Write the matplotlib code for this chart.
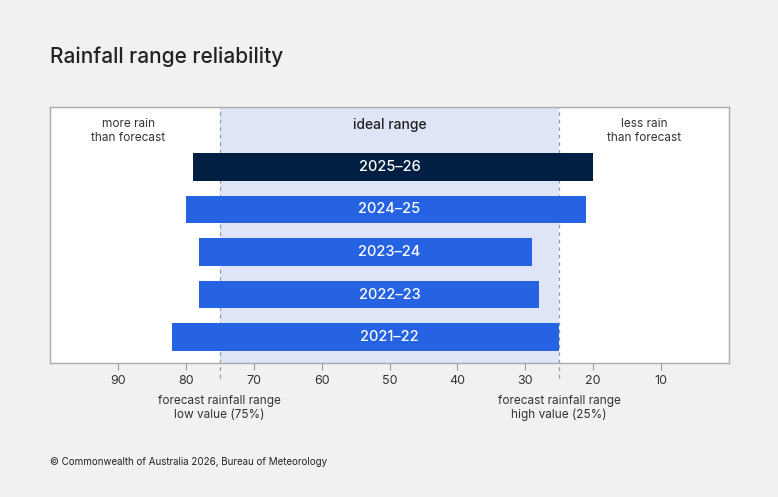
import matplotlib.pyplot as plt

seasons = ["2021–22", "2022–23", "2023–24", "2024–25", "2025–26"]
low_end = [82, 78, 78, 80, 79]
high_end = [25, 28, 29, 21, 20]
ideal_low = 75
ideal_high = 25
xticks = [90, 80, 70, 60, 50, 40, 30, 20, 10]

plt.rcParams["font.family"] = ["Inter", "DejaVu Sans"]

BG = "#f1f1f1"
BLUE = "#2563e3"
NAVY = "#011f42"
SHADE = "#dde5f7"
TXT = "#333333"

fig = plt.figure(figsize=(7.78, 4.97), dpi=100, facecolor=BG)
ax = fig.add_axes([50 / 778, 1 - 363 / 497, 679 / 778, 256 / 497])
ax.set_facecolor("white")

ax.axvspan(ideal_low, ideal_high, color=SHADE, zorder=0, lw=0)
for v in (ideal_low, ideal_high):
    ax.axvline(v, ymin=-0.06, ymax=1, color="#999999", lw=0.9,
               ls=(0, (3, 3)), clip_on=False, zorder=1)

for i, (s, lo, hi) in enumerate(zip(seasons, low_end, high_end)):
    col = NAVY if i == len(seasons) - 1 else BLUE
    ax.barh(i, hi - lo, left=lo, height=0.64, color=col, zorder=2)
    ax.text(50, i, s, color="white", ha="center", va="center",
            fontsize=10.5, fontweight="medium", zorder=3)

ax.set_xlim(100, 0)
ax.set_ylim(-0.61, 5.41)
ax.set_yticks([])
ax.set_xticks(xticks)
ax.tick_params(axis="x", length=5, color="#999999", labelcolor=TXT,
               labelsize=9, pad=4)
for sp in ax.spines.values():
    sp.set_color("#aaaaaa")
    sp.set_linewidth(1)

ax.text(88.5, 4.85, "more rain\nthan forecast", ha="center", va="center",
        fontsize=8.5, color=TXT, linespacing=1.2)
ax.text(12.5, 4.85, "less rain\nthan forecast", ha="center", va="center",
        fontsize=8.5, color=TXT, linespacing=1.2)
ax.text(50, 4.99, "ideal range", ha="center", va="center",
        fontsize=10, color="#222222", fontweight="medium")

fig.text(219 / 778, 1 - 408 / 497, "forecast rainfall range\nlow value (75%)",
         ha="center", va="center", fontsize=8.5, color=TXT, linespacing=1.2)
fig.text(559 / 778, 1 - 408 / 497, "forecast rainfall range\nhigh value (25%)",
         ha="center", va="center", fontsize=8.5, color=TXT, linespacing=1.2)

fig.text(50 / 778, 1 - 57 / 497, "Rainfall range reliability", ha="left",
         va="center", fontsize=15, color="#222222", fontweight="medium")
fig.text(50 / 778, 1 - 462 / 497,
         "© Commonwealth of Australia 2026, Bureau of Meteorology",
         ha="left", va="center", fontsize=7, color="#222222")

fig.savefig("out.png", dpi=100, facecolor=BG)
